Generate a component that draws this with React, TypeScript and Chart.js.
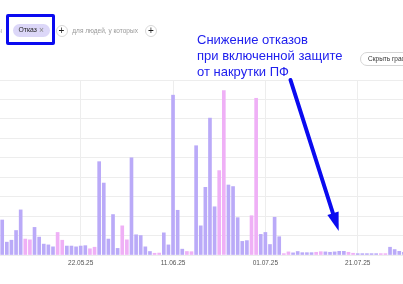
import React, { useEffect, useRef } from "react";
import { Chart, registerables } from "chart.js";

Chart.register(...registerables);

// Daily categories (05.05.25 … 31.07.25)
const dates: string[] = [
  "05.05.25", "06.05.25", "07.05.25", "08.05.25", "09.05.25", "10.05.25", "11.05.25",
  "12.05.25", "13.05.25", "14.05.25", "15.05.25", "16.05.25", "17.05.25", "18.05.25",
  "19.05.25", "20.05.25", "21.05.25", "22.05.25", "23.05.25", "24.05.25", "25.05.25",
  "26.05.25", "27.05.25", "28.05.25", "29.05.25", "30.05.25", "31.05.25",
  "01.06.25", "02.06.25", "03.06.25", "04.06.25", "05.06.25", "06.06.25", "07.06.25",
  "08.06.25", "09.06.25", "10.06.25", "11.06.25", "12.06.25", "13.06.25", "14.06.25",
  "15.06.25", "16.06.25", "17.06.25", "18.06.25", "19.06.25", "20.06.25", "21.06.25",
  "22.06.25", "23.06.25", "24.06.25", "25.06.25", "26.06.25", "27.06.25", "28.06.25",
  "29.06.25", "30.06.25",
  "01.07.25", "02.07.25", "03.07.25", "04.07.25", "05.07.25", "06.07.25", "07.07.25",
  "08.07.25", "09.07.25", "10.07.25", "11.07.25", "12.07.25", "13.07.25", "14.07.25",
  "15.07.25", "16.07.25", "17.07.25", "18.07.25", "19.07.25", "20.07.25", "21.07.25",
  "22.07.25", "23.07.25", "24.07.25", "25.07.25", "26.07.25", "27.07.25", "28.07.25",
  "29.07.25", "30.07.25", "31.07.25",
];

// Bounce rate, %
const bounceRate: number[] = [
  9.0, 3.3, 3.8, 6.3, 11.6, 4.1, 3.9,
  7.1, 4.6, 2.8, 2.6, 2.1, 5.8, 3.8,
  2.3, 2.3, 2.1, 2.3, 2.4, 1.6, 2.0,
  24.0, 18.5, 4.1, 10.4, 1.7, 7.5,
  3.9, 25.0, 5.2, 5.0, 2.1, 0.9, 0.45,
  0.5, 5.7, 2.6, 41.1, 11.5, 1.5, 0.9,
  0.85, 28.1, 7.5, 17.4, 35.2, 12.4, 21.7,
  42.3, 18.0, 17.6, 9.6, 3.5, 3.7, 10.1,
  40.3, 5.3,
  5.8, 2.7, 9.7, 4.7, 0.35, 0.8, 0.55,
  0.9, 0.6, 0.6, 0.6, 0.7, 0.85, 0.8,
  0.7, 0.8, 0.95, 0.95, 0.7, 0.45, 0.35,
  0.35, 0.35, 0.35, 0.35, 0.35, 0.35, 2.0,
  1.4, 0.95, 0.7,
];

const tickDates: string[] = ["22.05.25", "11.06.25", "01.07.25", "21.07.25"];

const WEEKDAY_COLOR = "rgb(186,170,248)";
const WEEKEND_COLOR = "rgb(239,176,246)";
const GRID_COLOR = "#ededed";
const BLUE = "#0a0af0";

function isWeekend(label: string): boolean {
  const [d, m, y] = label.split(".").map(Number);
  const wd = new Date(2000 + y, m - 1, d).getDay();
  return wd === 0 || wd === 6;
}

export default function App() {
  const ref = useRef<HTMLCanvasElement>(null);

  useEffect(() => {
    document.body.style.margin = "0";
    const chart = new Chart(ref.current as HTMLCanvasElement, {
      type: "bar",
      data: {
        datasets: [
          {
            data: bounceRate.map((v, i) => ({ x: i, y: v })) as any,
            backgroundColor: dates.map((d) => (isWeekend(d) ? WEEKEND_COLOR : WEEKDAY_COLOR)),
            borderWidth: 0,
            barThickness: 3,
          },
        ],
      },
      options: {
        animation: false,
        responsive: false,
        layout: { padding: { top: 80, left: 0, right: 0, bottom: 0 } },
        plugins: { legend: { display: false }, tooltip: { enabled: false } },
        scales: {
          x: {
            type: "linear",
            offset: false,
            min: -0.479,
            max: 86.81,
            afterBuildTicks: (s: any) => {
              s.ticks = tickDates.map((t) => ({ value: dates.indexOf(t) }));
            },
            afterFit: (s: any) => {
              s.height = 29;
            },
            ticks: {
              callback: (v: any) => dates[v as number],
              font: { family: "Liberation Sans, Arial, sans-serif", size: 6.5 },
              color: "#555",
              padding: 4,
              maxRotation: 0,
              autoSkip: false,
            },
            grid: { color: GRID_COLOR, drawTicks: false, offset: false },
            border: { display: false },
          },
          y: {
            min: 0,
            max: 45,
            ticks: { display: false, stepSize: 5 },
            afterFit: (s: any) => {
              s.width = 0;
            },
            grid: { color: GRID_COLOR, drawTicks: false },
            border: { display: false },
          },
        },
      },
    });
    return () => chart.destroy();
  }, []);

  const sans = "Liberation Sans, Arial, sans-serif";

  return (
    <div
      style={{
        position: "absolute",
        left: 0,
        top: 0,
        width: 403,
        height: 284,
        overflow: "hidden",
        background: "#fff",
        fontFamily: sans,
      }}
    >
      <canvas ref={ref} width={403} height={284} style={{ position: "absolute", left: 0, top: 0 }} />

      {/* header row */}
      <div style={{ position: "absolute", left: -3, top: 25, fontSize: 7, lineHeight: "11px", color: "#aaa" }}>ы</div>
      <div
        style={{
          position: "absolute",
          left: 6,
          top: 14,
          width: 49,
          height: 31,
          border: `3px solid ${BLUE}`,
          borderRadius: 2,
          boxSizing: "border-box",
        }}
      />
      <div
        style={{
          position: "absolute",
          left: 13,
          top: 24.3,
          width: 36.5,
          height: 12.5,
          borderRadius: 6.5,
          background: "#dcd7f8",
        }}
      >
        <span style={{ position: "absolute", left: 5.5, top: 0, fontSize: 6.8, lineHeight: "12.5px", color: "#222" }}>
          Отказ
        </span>
        <span style={{ position: "absolute", left: 26, top: 0, fontSize: 8.5, lineHeight: "12px", color: "#888" }}>×</span>
      </div>
      {[61.5, 151].map((cx) => (
        <div
          key={cx}
          style={{
            position: "absolute",
            left: cx - 6,
            top: 25,
            width: 12,
            height: 12,
            borderRadius: 6,
            border: "1px solid #d8d8d8",
            boxSizing: "border-box",
            textAlign: "center",
            fontSize: 10,
            lineHeight: "10px",
            color: "#222",
          }}
        >
          +
        </div>
      ))}
      <div style={{ position: "absolute", left: 72.3, top: 25.5, fontSize: 6.5, lineHeight: "10px", color: "#999", whiteSpace: "nowrap" }}>
        для людей, у которых
      </div>

      {/* annotation */}
      <div
        style={{
          position: "absolute",
          left: 197,
          top: 32,
          fontFamily: sans,
          fontSize: 13,
          lineHeight: "16px",
          color: "#2020ee",
          whiteSpace: "nowrap",
        }}
      >
        <div>Снижение отказов</div>
        <div>при включенной защите</div>
        <div>от накрутки ПФ</div>
      </div>

      <div
        style={{
          position: "absolute",
          left: 360,
          top: 52,
          width: 70,
          height: 14,
          borderRadius: 7,
          border: "1px solid #d5d5d5",
          boxSizing: "border-box",
          fontSize: 6.5,
          lineHeight: "12px",
          paddingLeft: 7,
          color: "#333",
          whiteSpace: "nowrap",
          background: "#fff",
        }}
      >
        Скрыть график
      </div>

      <svg width={403} height={284} style={{ position: "absolute", left: 0, top: 0, pointerEvents: "none" }}>
        <line x1={290.5} y1={80} x2={333} y2={213.5} stroke={BLUE} strokeWidth={4} strokeLinecap="round" />
        <polygon points="327.4,215 338.6,211.5 338.7,231" fill={BLUE} />
      </svg>
    </div>
  );
}
